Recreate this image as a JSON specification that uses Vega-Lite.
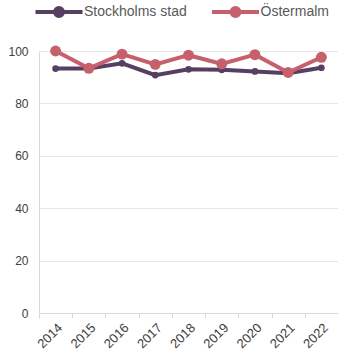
{
  "$schema": "https://vega.github.io/schema/vega-lite/v6.json",
  "width": 299,
  "height": 262,
  "autosize": "none",
  "padding": {"left": 39, "top": 51, "right": 0, "bottom": 47},
  "config": {
    "view": {"stroke": null},
    "font": "Liberation Sans",
    "axis": {
      "labelFont": "Liberation Sans",
      "labelColor": "#404040",
      "labelFontSize": 12,
      "domainColor": "#d9d9d9",
      "tickColor": "#d9d9d9",
      "gridColor": "#e6e6e6"
    }
  },
  "data": {
    "values": [
      {"year": "2014", "series": "Stockholms stad", "value": 93.3},
      {"year": "2015", "series": "Stockholms stad", "value": 93.3},
      {"year": "2016", "series": "Stockholms stad", "value": 95.3},
      {"year": "2017", "series": "Stockholms stad", "value": 90.8},
      {"year": "2018", "series": "Stockholms stad", "value": 93.0},
      {"year": "2019", "series": "Stockholms stad", "value": 92.8},
      {"year": "2020", "series": "Stockholms stad", "value": 92.2},
      {"year": "2021", "series": "Stockholms stad", "value": 91.5},
      {"year": "2022", "series": "Stockholms stad", "value": 93.6},
      {"year": "2014", "series": "Östermalm", "value": 100.0},
      {"year": "2015", "series": "Östermalm", "value": 93.4},
      {"year": "2016", "series": "Östermalm", "value": 98.8},
      {"year": "2017", "series": "Östermalm", "value": 94.9},
      {"year": "2018", "series": "Östermalm", "value": 98.4},
      {"year": "2019", "series": "Östermalm", "value": 95.1},
      {"year": "2020", "series": "Östermalm", "value": 98.6},
      {"year": "2021", "series": "Östermalm", "value": 91.8},
      {"year": "2022", "series": "Östermalm", "value": 97.6}
    ]
  },
  "encoding": {
    "x": {
      "field": "year",
      "type": "ordinal",
      "title": null,
      "scale": {"paddingInner": 0, "paddingOuter": 0},
      "axis": {"labelAngle": -45, "labelFontSize": 13, "tickBand": "extent", "tickSize": 5, "labelPadding": 3, "grid": false}
    },
    "y": {
      "field": "value",
      "type": "quantitative",
      "title": null,
      "scale": {"domain": [0, 100], "nice": false},
      "axis": {"values": [0, 20, 40, 60, 80, 100], "tickSize": 0, "labelPadding": 11, "grid": true}
    },
    "color": {
      "field": "series",
      "type": "nominal",
      "scale": {"domain": ["Stockholms stad", "Östermalm"], "range": ["#573f62", "#c5606c"]},
      "legend": {
        "title": null,
        "orient": "none",
        "legendX": 8,
        "legendY": -51,
        "padding": 0,
        "direction": "horizontal",
        "labelFontSize": 14,
        "labelColor": "#595959",
        "labelFont": "Liberation Sans",
        "symbolType": "M-2.35,0H2.35M-0.4,0A0.4,0.4,0,1,0,0.4,0A0.4,0.4,0,1,0,-0.4,0Z",
        "symbolSize": 400,
        "symbolStrokeWidth": 4,
        "symbolOffset": 0,
        "labelOffset": 13,
        "columnPadding": 16.5,
        "encode": {"symbols": {"update": {"size": {"value": 400}, "strokeWidth": {"value": 4}}}}
      }
    }
  },
  "layer": [
    {"mark": {"type": "line", "strokeWidth": 4}},
    {
      "transform": [{"filter": "datum.series === 'Stockholms stad'"}],
      "mark": {"type": "point", "filled": true, "opacity": 1, "size": 45}
    },
    {
      "transform": [{"filter": "datum.series === 'Östermalm'"}],
      "mark": {"type": "point", "filled": true, "opacity": 1, "size": 120}
    }
  ]
}
